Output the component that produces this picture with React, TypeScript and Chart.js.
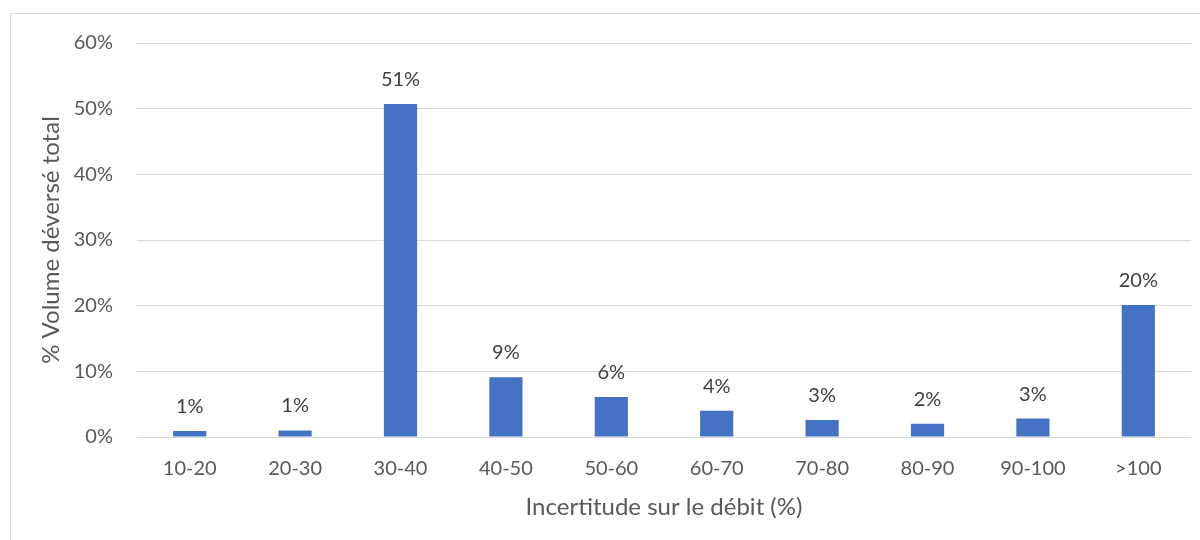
import React, { useEffect, useRef } from "react";
import { Chart, registerables } from "chart.js";

Chart.register(...registerables);

const categories = ["10-20", "20-30", "30-40", "40-50", "50-60", "60-70", "70-80", "80-90", "90-100", ">100"];
const volumes = [0.9, 1.0, 50.7, 9.1, 6.1, 4.0, 2.6, 2.0, 2.8, 20.1];
const yTicks = [0, 10, 20, 30, 40, 50, 60];
const xTitle = "Incertitude sur le débit (%)";
const yTitle = "% Volume déversé total";

const FONT = "Lato, 'Open Sans', sans-serif";

const valueLabels = {
  id: "valueLabels",
  afterDatasetsDraw(chart: any) {
    const ctx = chart.ctx;
    const meta = chart.getDatasetMeta(0);
    ctx.save();
    ctx.font = `20px ${FONT}`;
    ctx.fillStyle = "#404040";
    ctx.textAlign = "center";
    ctx.textBaseline = "alphabetic";
    meta.data.forEach((bar: any, i: number) => {
      const v = chart.data.datasets[0].data[i] as number;
      ctx.fillText(Math.round(v) + "%", bar.x, bar.y - 18);
    });
    ctx.restore();
  },
};

export default function App() {
  const ref = useRef<HTMLCanvasElement | null>(null);
  useEffect(() => {
    if (!ref.current) return;
    const chart = new Chart(ref.current, {
      type: "bar",
      data: {
        labels: categories,
        datasets: [
          {
            data: volumes,
            backgroundColor: "#4472C4",
            borderWidth: 0,
            categoryPercentage: 1,
            barPercentage: 0.315,
          },
        ],
      },
      options: {
        animation: false,
        responsive: false,
        maintainAspectRatio: false,
        layout: { padding: { top: 43, right: 9, left: 0, bottom: 0 } },
        plugins: { legend: { display: false }, tooltip: { enabled: false } },
        scales: {
          x: {
            grid: { display: false },
            border: { display: false },
            ticks: { color: "#595959", font: { family: FONT, size: 20 }, padding: 12, maxRotation: 0 },
            title: { display: true, text: xTitle, color: "#595959", font: { family: FONT, size: 24 }, padding: { top: 0, bottom: 18 } },
            afterFit(scale: any) {
              scale.height = 103;
            },
          },
          y: {
            min: 0,
            max: 60,
            afterBuildTicks(scale: any) {
              scale.ticks = yTicks.map((v) => ({ value: v }));
            },
            grid: { color: "#d9d9d9", lineWidth: 1, drawTicks: false },
            border: { display: false },
            ticks: {
              color: "#595959",
              font: { family: FONT, size: 20 },
              padding: 24,
              callback: (v: any) => v + "%",
            },
            title: { display: true, text: yTitle, color: "#595959", font: { family: FONT, size: 24 }, padding: { top: 37, bottom: 0 } },
            afterFit(scale: any) {
              scale.width = 137;
            },
          },
        },
      },
      plugins: [valueLabels],
    });
    return () => chart.destroy();
  }, []);

  return (
    <div style={{ position: "fixed", left: 0, top: 0, width: 1200, height: 540, overflow: "hidden", background: "#fff" }}>
      <div
        style={{
          position: "absolute",
          left: 10,
          top: 13,
          width: 1200,
          height: 540,
          border: "1px solid #d9d9d9",
          boxSizing: "border-box",
        }}
      />
      <canvas ref={ref} width={1200} height={540} style={{ position: "absolute", left: 0, top: 0, width: 1200, height: 540 }} />
    </div>
  );
}
